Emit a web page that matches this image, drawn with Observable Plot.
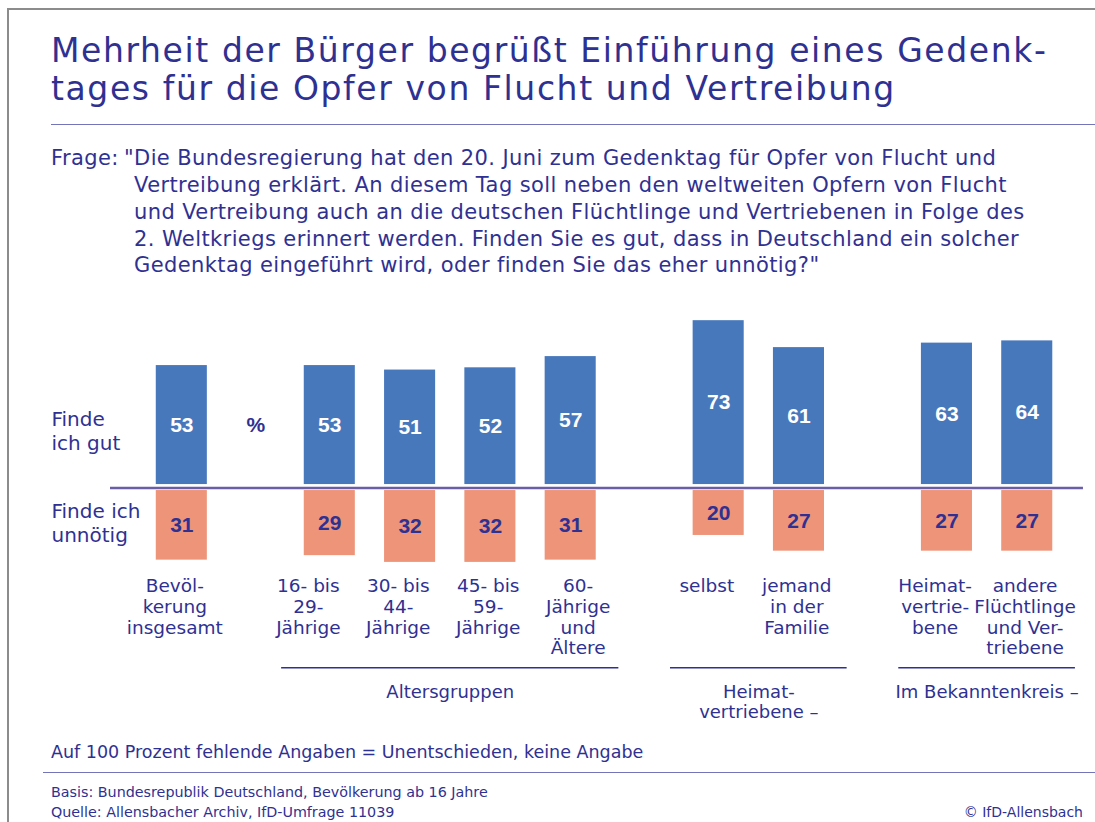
<!DOCTYPE html>
<html><head><meta charset="utf-8">
<script src="https://cdn.jsdelivr.net/npm/d3@7"></script>
<script src="https://cdn.jsdelivr.net/npm/@observablehq/plot@0.6"></script>
<style>
body{margin:0;background:#fff}
#page{position:relative;width:1095px;height:822px;overflow:hidden;font-family:"DejaVu Sans",sans-serif;color:#2f3192;background:#fff}
.abs{position:absolute;white-space:nowrap}
.t{font-size:33px;line-height:38.5px;letter-spacing:1.6px;left:51px}
.q{font-size:21px;line-height:26.8px;letter-spacing:0.4px}
#chart{position:absolute;left:0;top:290px}
</style></head><body>
<div id="page">
<div style="position:absolute;left:8px;top:8px;right:0;border-top:2px solid #8c8c8c"></div>
<div style="position:absolute;left:7px;top:8px;bottom:0;border-left:2px solid #8c8c8c"></div>
<div class="abs t" style="top:31.6px">Mehrheit der Bürger begrüßt Einführung eines Gedenk-</div>
<div class="abs t" style="top:70.1px">tages für die Opfer von Flucht und Vertreibung</div>
<div style="position:absolute;left:51px;right:0;top:124px;border-top:1.5px solid #7474b8"></div>
<div class="abs q" style="left:51px;top:145.3px">Frage:</div>
<div class="abs q" style="left:134px;top:145.3px"><span style="margin-left:-10px">"</span>Die Bundesregierung hat den 20. Juni zum Gedenktag für Opfer von Flucht und<br>Vertreibung erklärt. An diesem Tag soll neben den weltweiten Opfern von Flucht<br>und Vertreibung auch an die deutschen Flüchtlinge und Vertriebenen in Folge des<br>2. Weltkriegs erinnert werden. Finden Sie es gut, dass in Deutschland ein solcher<br>Gedenktag eingeführt wird, oder finden Sie das eher unnötig?"</div>
<div id="chart"></div>
<div class="abs" style="left:51px;top:742px;font-size:17.5px;line-height:20px">Auf 100 Prozent fehlende Angaben = Unentschieden, keine Angabe</div>
<div style="position:absolute;left:43px;right:0;top:772px;border-top:1.5px solid #7474b8"></div>
<div class="abs" style="left:51px;top:781.5px;font-size:14.3px;line-height:20.5px">Basis: Bundesrepublik Deutschland, Bevölkerung ab 16 Jahre<br>Quelle: Allensbacher Archiv, IfD-Umfrage 11039</div>
<div class="abs" style="right:12px;top:802px;font-size:14px;line-height:20.5px">© IfD-Allensbach</div>
</div>
<script>
// ---- data ----
const categories = [
  "Bevöl-\nkerung\ninsgesamt",
  "16- bis\n29-\nJährige",
  "30- bis\n44-\nJährige",
  "45- bis\n59-\nJährige",
  "60-\nJährige\nund\nÄltere",
  "selbst",
  "jemand\nin der\nFamilie",
  "Heimat-\nvertrie-\nbene",
  "andere\nFlüchtlinge\nund Ver-\ntriebene"
];
const findeGut = [53, 53, 51, 52, 57, 73, 61, 63, 64];
const findeUnnoetig = [31, 29, 32, 32, 31, 20, 27, 27, 27];
const groupOf = [0, 1, 1, 1, 1, 2, 2, 3, 3];
const groupLabels = ["", "Altersgruppen", "Heimat-\nvertriebene –", "Im Bekanntenkreis –"];
const rowLabels = ["Finde\nich gut", "Finde ich\nunnötig"];
const unitLabel = "%";

// ---- layout helpers ----
const GAP = 1.843;          // spacing between groups, in bar steps
const slots = [];
groupOf.forEach((g, i) => {
  slots.push(i === 0 ? 0 : slots[i - 1] + (g !== groupOf[i - 1] ? GAP : 1));
});
const data = categories.map((c, i) => ({cat: c, gut: findeGut[i], un: findeUnnoetig[i], slot: slots[i], group: groupOf[i]}));
const groups = groupLabels.map((label, g) => {
  const s = data.filter(d => d.group === g).map(d => d.slot);
  return {label, start: d3.min(s), end: d3.max(s), mid: (d3.min(s) + d3.max(s)) / 2};
});
const midOf = g => groups[g].mid;
const SPREAD = 0.12;        // labels fan out slightly from their group's middle
const labelX = d => d.slot + SPREAD * (d.slot - midOf(d.group));

const HALF = 0.318, EXT = 0.6;
const BLUE = "#4878bc", SALMON = "#ee9479", INK = "#2f3192";

const chart = Plot.plot({
  width: 1095, height: 440, margin: 0,
  style: {fontFamily: "DejaVu Sans", color: INK, background: "transparent"},
  x: {domain: [-2.258, 11.379], axis: null},
  y: {domain: [-108, 88], axis: null},
  marks: [
    Plot.rectY(data, {x1: d => d.slot - HALF, x2: d => d.slot + HALF, y1: 0, y2: "gut", fill: BLUE, dy: -3.5}),
    Plot.rectY(data, {x1: d => d.slot - HALF, x2: d => d.slot + HALF, y1: 0, y2: d => -d.un, fill: SALMON, dy: 2.5}),
    Plot.ruleY([0], {x1: -0.888, x2: 11.229, stroke: "#6a5ea6", strokeWidth: 2.5}),
    Plot.text(data, {x: "slot", y: d => d.gut / 2, text: d => String(d.gut), fill: "white", fontWeight: "bold", fontSize: 21, fontFamily: "Liberation Sans", dy: -3.5}),
    Plot.text(data, {x: "slot", y: d => -d.un / 2, text: d => String(d.un), fill: INK, fontWeight: "bold", fontSize: 21, fontFamily: "Liberation Sans", dy: 2.5}),
    Plot.text([unitLabel], {x: (slots[0] + slots[1]) / 2, y: findeGut[0] / 2, text: d => d, fill: INK, fontWeight: "bold", fontSize: 21, fontFamily: "Liberation Sans", dy: -3.5}),
    Plot.text(rowLabels, {y: [25.5, -15.2], text: d => d, frameAnchor: "left", textAnchor: "start", dx: 51, fontSize: 20, lineHeight: 1.2, fill: INK}),
    Plot.text(data, {x: labelX, text: "cat", frameAnchor: "top", lineAnchor: "top", dy: 287, dx: -7, fontSize: 18.5, lineHeight: 1.12, fill: INK}),
    Plot.ruleY(groups.filter(d => d.label), {x1: d => d.start - EXT, x2: d => d.end + EXT, y: -80, stroke: INK, strokeWidth: 1.5}),
    Plot.text(groups.filter(d => d.label), {x: "mid", text: "label", frameAnchor: "top", lineAnchor: "top", dy: 393, fontSize: 18, lineHeight: 1.11, fill: INK})
  ]
});
document.getElementById("chart").appendChild(chart);
</script>
</body></html>
